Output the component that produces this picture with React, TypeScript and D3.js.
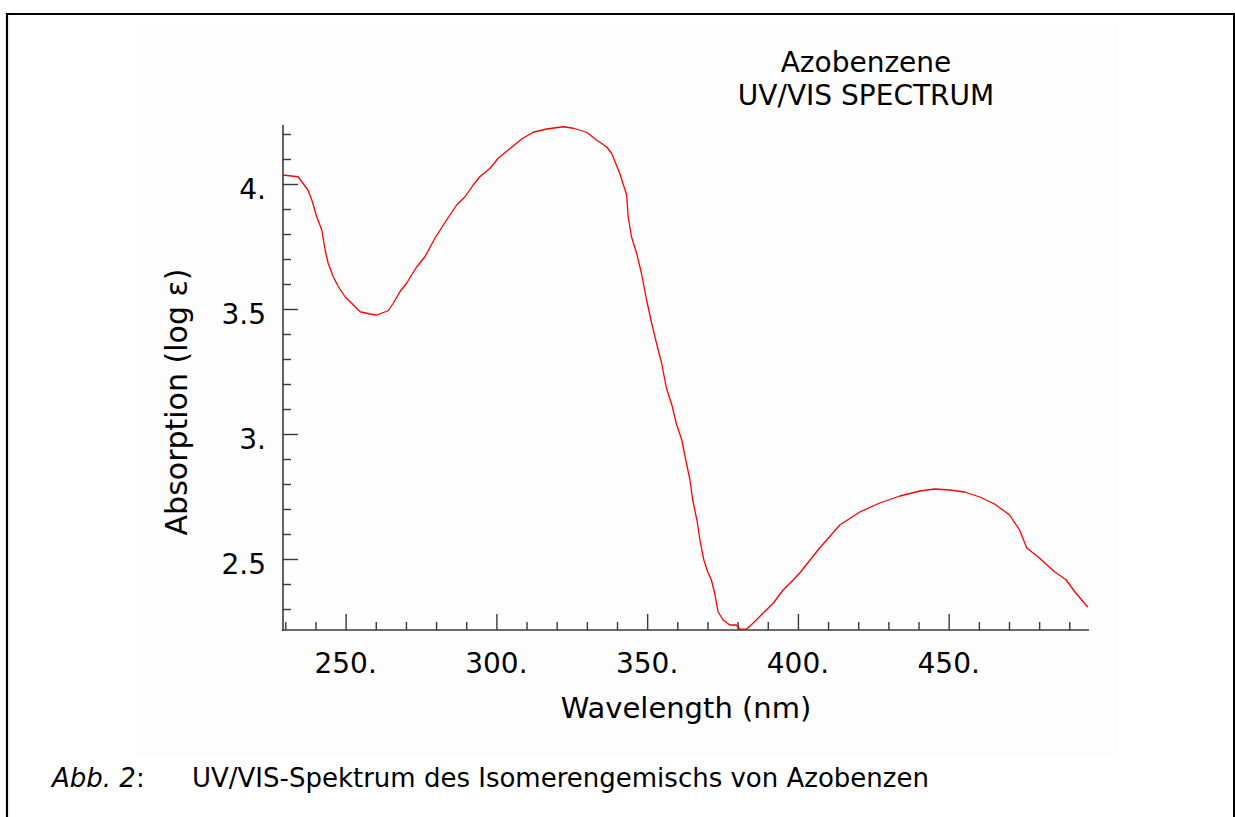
import React, { useRef, useEffect } from "react";
import * as d3 from "d3";

// spectrum, [wavelength nm, log eps]
const shortBand: [number, number][] = [
  [229.1, 4.036], [234.2, 4.029], [237.5, 3.976], [238.8, 3.936], [240.4, 3.869],
  [242.1, 3.816], [243.2, 3.736], [244.2, 3.683], [245.9, 3.629], [247.6, 3.589],
  [249.8, 3.549], [252.0, 3.523], [254.8, 3.489], [258.1, 3.48], [260.3, 3.476],
  [264.1, 3.493], [265.8, 3.523], [268.0, 3.569], [270.2, 3.603], [273.6, 3.669],
  [276.3, 3.709], [279.6, 3.783], [282.4, 3.836], [286.8, 3.916], [289.6, 3.949],
];
const piBand: [number, number][] = [
  [292.3, 3.996], [294.5, 4.029], [297.9, 4.063], [300.6, 4.103], [303.9, 4.136],
  [308.4, 4.18], [312.2, 4.207], [316.6, 4.22], [322.2, 4.229], [325.5, 4.223],
  [329.9, 4.207], [333.2, 4.176], [336.5, 4.149], [338.2, 4.123], [340.9, 4.043],
  [343.2, 3.956], [343.7, 3.869], [344.8, 3.789], [346.5, 3.723], [348.1, 3.643],
  [349.8, 3.536], [351.5, 3.443], [353.1, 3.363], [354.8, 3.283], [356.4, 3.183],
  [358.2, 3.116], [359.8, 3.036], [361.5, 2.976], [362.8, 2.896], [364.2, 2.816],
  [365.1, 2.736], [366.5, 2.656], [367.5, 2.576], [368.8, 2.496], [370.1, 2.448],
];
const valley: [number, number][] = [
  [371.3, 2.416], [372.4, 2.363], [373.5, 2.289], [375.2, 2.256], [377.4, 2.236],
  [379.6, 2.236], [380.7, 2.219], [382.9, 2.219], [385.1, 2.243], [388.4, 2.283],
  [391.8, 2.323], [395.1, 2.376], [398.4, 2.416],
];
const nPiBand: [number, number][] = [
  [400.6, 2.444], [407.2, 2.544], [413.9, 2.636], [420.5, 2.688], [427.1, 2.724],
  [433.8, 2.752], [440.4, 2.772], [445.4, 2.78], [450.4, 2.776], [455.3, 2.768],
  [460.3, 2.748], [465.2, 2.72], [470.2, 2.676], [473.5, 2.616], [475.9, 2.544],
  [479.6, 2.509], [485.1, 2.449], [489.0, 2.416], [491.8, 2.369], [496.1, 2.308],
];

const xMajor = [250, 300, 350, 400, 450];
const xMinor = [230, 240, 260, 270, 280, 290, 310, 320, 330, 340, 360, 370, 380, 390, 410, 420, 430, 440, 460, 470, 480, 490];
const yMajor = [2.5, 3, 3.5, 4];
const yMinor = [2.3, 2.4, 2.6, 2.7, 2.8, 2.9, 3.1, 3.2, 3.3, 3.4, 3.6, 3.7, 3.8, 3.9, 4.1, 4.2];

const titleLines = ["Azobenzene", "UV/VIS SPECTRUM"];
const xTitle = "Wavelength (nm)";
const yTitle = "Absorption (log ε)";
const captionLabel = "Abb. 2";
const captionText = "UV/VIS-Spektrum des Isomerengemischs von Azobenzen";

const W = 1235;
const H = 817;
const FONT = "'DejaVu Sans', Verdana, sans-serif";

const fmt = (v: number) => (Number.isInteger(v) ? `${v}.` : `${v}`);

export default function App() {
  const svgRef = useRef<SVGSVGElement>(null);

  useEffect(() => {
    const svg = d3.select(svgRef.current);
    svg.selectAll("*").remove();

    const x = d3.scaleLinear().domain([229, 496.3]).range([282.3, 1088.3]);
    const y = d3.scaleLinear().domain([2.216, 4.236]).range([630, 125]);

    // page frame + plot background
    svg.append("rect").attr("x", 135).attr("y", 23).attr("width", 983).attr("height", 732).attr("fill", "#fdfdfd");
    svg.append("line").attr("x1", 7).attr("x2", 7).attr("y1", 13).attr("y2", H).attr("stroke", "#000").attr("stroke-width", 2.2);
    svg.append("line").attr("x1", 6).attr("x2", W).attr("y1", 14).attr("y2", 14).attr("stroke", "#000").attr("stroke-width", 2.2);
    svg.append("line").attr("x1", 1234).attr("x2", 1234).attr("y1", 13).attr("y2", H).attr("stroke", "#000").attr("stroke-width", 2);

    const axisColor = "#3a3a3a";

    // y axis, ticks pointing inward
    const gy = svg.append("g").attr("transform", "translate(283,0)");
    gy.append("g").call(d3.axisRight(y).tickValues(yMinor).tickSize(8).tickFormat(() => ""));
    gy.append("g").call(d3.axisRight(y).tickValues(yMajor).tickSize(15).tickFormat(() => ""));
    gy.selectAll("path.domain").remove();
    gy.selectAll("line").attr("stroke", axisColor).attr("stroke-width", 1.4);
    gy.append("line").attr("y1", 125).attr("y2", 631).attr("stroke", axisColor).attr("stroke-width", 1.6);

    // x axis
    const gx = svg.append("g").attr("transform", "translate(0,630)");
    gx.append("g").call(d3.axisTop(x).tickValues(xMinor).tickSize(8).tickFormat(() => ""));
    gx.append("g").call(d3.axisTop(x).tickValues(xMajor).tickSize(16).tickFormat(() => ""));
    gx.selectAll("path.domain").remove();
    gx.selectAll("line").attr("stroke", axisColor).attr("stroke-width", 1.4);
    gx.append("line").attr("x1", 282).attr("x2", 1089).attr("stroke", axisColor).attr("stroke-width", 1.6);

    // tick labels
    svg.append("g")
      .selectAll("text")
      .data(xMajor)
      .join("text")
      .attr("x", d => x(d))
      .attr("y", 673)
      .attr("text-anchor", "middle")
      .style("font", `28px ${FONT}`)
      .text(d => fmt(d));

    svg.append("g")
      .selectAll("text")
      .data(yMajor)
      .join("text")
      .attr("x", 266)
      .attr("y", d => y(d) + 15)
      .attr("text-anchor", "end")
      .style("font", `28px ${FONT}`)
      .text(d => fmt(d));

    // axis titles
    svg.append("text")
      .attr("x", 686)
      .attr("y", 718)
      .attr("text-anchor", "middle")
      .style("font", `29px ${FONT}`)
      .text(xTitle);

    svg.append("text")
      .attr("transform", "translate(187,402) rotate(-90)")
      .attr("text-anchor", "middle")
      .style("font", `30px ${FONT}`)
      .text(yTitle);

    // chart title
    svg.append("g")
      .selectAll("text")
      .data(titleLines)
      .join("text")
      .attr("x", 866)
      .attr("y", (d, i) => 72 + i * 33)
      .attr("text-anchor", "middle")
      .style("font", `28px ${FONT}`)
      .text(d => d);

    // spectrum
    const line = d3.line<[number, number]>()
      .x(d => x(d[0]))
      .y(d => y(d[1]));

    svg.append("path")
      .datum([...shortBand, ...piBand, ...valley, ...nPiBand])
      .attr("d", line)
      .attr("fill", "none")
      .attr("stroke", "#ff0000")
      .attr("stroke-width", 1.3)
      .attr("stroke-linejoin", "round");

    // caption
    const cap = svg.append("text").attr("y", 787).style("font", `26px ${FONT}`);
    cap.append("tspan").attr("x", 52).style("font-style", "italic").text(captionLabel);
    cap.append("tspan").text(":");
    svg.append("text")
      .attr("x", 192)
      .attr("y", 787)
      .style("font", `26px ${FONT}`)
      .text(captionText);
  }, []);

  return (
    <svg
      ref={svgRef}
      width={W}
      height={H}
      style={{ position: "absolute", left: 0, top: 0, background: "#fff" }}
    />
  );
}
